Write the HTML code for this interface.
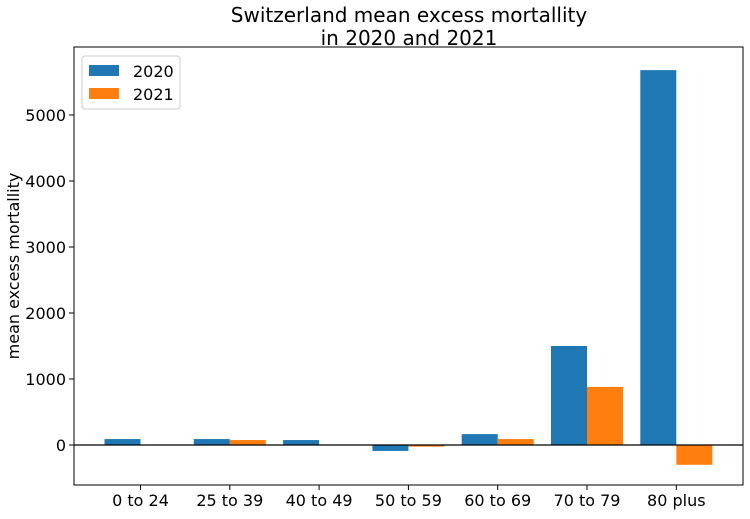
<!DOCTYPE html>
<html><head><meta charset="utf-8"><style>
body{margin:0;background:#fff;}
svg text{font-family:"DejaVu Sans","Liberation Sans",sans-serif;fill:#000;}
</style></head><body>
<svg id="chart" width="750" height="514">
<text x="409" y="22" font-size="20" text-anchor="middle"><tspan x="409">Switzerland mean excess mortallity</tspan><tspan x="409" dy="23">in 2020 and 2021</tspan></text>
<text transform="translate(19,266) rotate(-90)" font-size="16" text-anchor="middle">mean excess mortallity</text>
<g id="bars"></g>
<g id="axes"></g>
<g>
<rect x="82" y="56" width="98" height="53" fill="#fff" stroke="#ccc" rx="3"/>
<rect x="89" y="65" width="30" height="11" fill="#1f77b4"/>
<text x="133" y="77" font-size="16">2020</text>
<rect x="89" y="88" width="30" height="11" fill="#ff7f0e"/>
<text x="133" y="100" font-size="16">2021</text>
</g>
</svg>
<script>
const categories=["0 to 24","25 to 39","40 to 49","50 to 59","60 to 69","70 to 79","80 plus"];
const values2020=[90,90,75,-90,165,1500,5680];
const values2021=[0,75,0,-25,90,880,-300];
const yTicks=[0,1000,2000,3000,4000,5000];
const NS="http://www.w3.org/2000/svg";
const L=74,R=743,T=47,B=485,Y0=445,PX=0.066;
const y=v=>Y0-v*PX;
const step=89.3,c0=140.5,bw=36;
const xc=i=>c0+i*step;
function mk(t,a,p){const e=document.createElementNS(NS,t);for(const k in a)e.setAttribute(k,a[k]);p.appendChild(e);return e;}
const bars=document.getElementById('bars'),axes=document.getElementById('axes');
categories.forEach((c,i)=>{
 [[values2020,'#1f77b4',-bw,'2020'],[values2021,'#ff7f0e',0,'2021']].forEach(([arr,col,off,yr])=>{
  const v=arr[i];const r=mk('rect',{x:xc(i)+off,y:Math.min(y(v),y(0)),width:bw,height:Math.abs(y(v)-y(0)),fill:col},bars);
  
  
 });
 mk('line',{x1:xc(i),x2:xc(i),y1:B,y2:B+5,stroke:'#000'},axes);
 const t=mk('text',{x:xc(i),y:B+21,'font-size':16,'text-anchor':'middle'},axes);t.textContent=c;
 
 
});
yTicks.forEach(v=>{
 mk('line',{x1:L-5,x2:L,y1:y(v),y2:y(v),stroke:'#000'},axes);
 const t=mk('text',{x:L-8,y:y(v)+6,'font-size':16,'text-anchor':'end'},axes);t.textContent=v;
 
 
});
mk('line',{x1:L,x2:R,y1:y(0),y2:y(0),stroke:'#000','stroke-width':1.2},axes);
const fr=mk('rect',{x:L,y:T,width:R-L,height:B-T,fill:'none',stroke:'#000','stroke-width':1},axes);


</script>
</body></html>
